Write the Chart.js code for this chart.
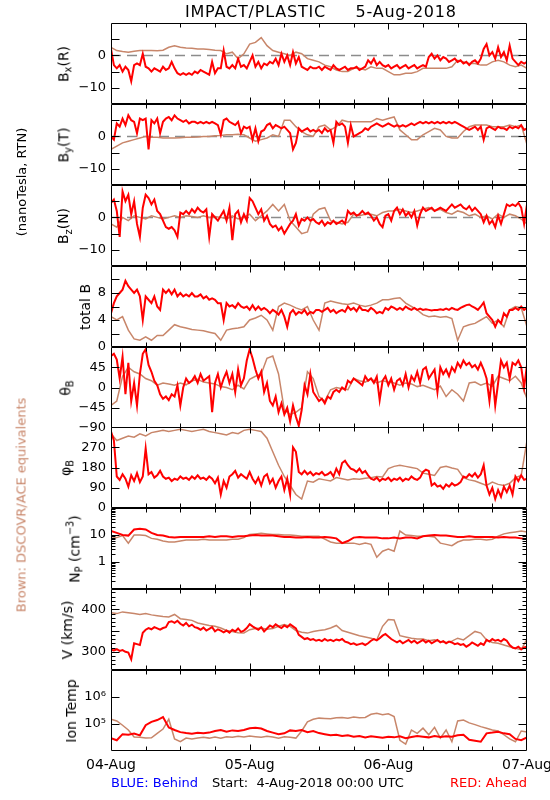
<!DOCTYPE html>
<html>
<head>
<meta charset="utf-8">
<title>IMPACT/PLASTIC 5-Aug-2018</title>
<script src="https://cdn.jsdelivr.net/npm/chart.js@4.4.1/dist/chart.umd.min.js"></script>
<style>
  body { margin: 0; background: #fff; }
  #page { position: relative; width: 550px; height: 800px; overflow: hidden; font-family: "DejaVu Sans", sans-serif; color: #000; }
  #page canvas { position: absolute; left: 0; }
  .txt { position: absolute; white-space: pre; line-height: 1; }
  .rot { position: absolute; white-space: pre; line-height: 1; font-size: 14px; transform: translate(-50%, -50%) rotate(-90deg); }
  sub { font-size: 70%; vertical-align: -0.35em; }
  sup { font-size: 70%; vertical-align: 0.6em; }
</style>
</head>
<body>
<div id="page"></div>
<script>
// time axis (hours from 4-Aug-2018 00:00 UTC)
const dayLabels = ['04-Aug', '05-Aug', '06-Aug', '07-Aug'];
const sixHourTicks = [6, 12, 18, 24, 30, 36, 42, 48, 54, 60, 66];
const RED_STEP = 0.5;   // red (STEREO) samples every 30 min
const BROWN_STEP = 1;   // brown (DSCOVR/ACE) samples every hour

// Bx (R), nT
const bxRed = [
  2, -3, -4, -3, -5, -3.5, -4.5, -8, -3, -2.5,
  -3, 0.5, -3.5, -4, -5, -4, -4.5, -5, -3.5, -4.5,
  -4, -2, -4, -5.5, -6, -5.5, -6, -5.5, -6, -5,
  -5.5, -4.5, -5, -5.5, -6, -2, -5.5, -4, -4, 1.5,
  -3.5, -4, -3, -4, -1, -3.5, -3, -4, -2, 0,
  -3.5, -2, -4, -2.5, -3, -2, -2.5, -1, -3, 0.5,
  -2, 0, -3, 1, -2.5, -0.5, -3.5, -4, -4.5, -3.5,
  -4, -4, -3.5, -4.5, -3.5, -4, -4.5, -3, -4, -4.5,
  -4, -3.5, -4.5, -4, -4, -3.5, -4.5, -4, -3.5, -1.5,
  -2.5, -1, -3, -2, -3, -3.5, -3, -4, -3.5, -3,
  -4, -3.5, -3, -4, -3.5, -3, -4, -3.5, -3, -3.5,
  -0.5, 0.5, -1, 0, -1.5, -0.5, -1, -2, -1.5, -1,
  -2, -1.5, -2.5, -2, -3, -2, -1.5, -2.5, -1, 2,
  3.5, 0, 1, -1, 2.5, -0.5, 1, -1.5, 3, -1,
  -2, -3, -2, -2.5, -2
];
const bxBrown = [
  2.5, 1.5, 1.2, 1, 1.3, 1.5, 1.5, 1.5, 1.4, 1.6,
  2.5, 3, 2.5, 2.3, 2.2, 2, 2, 1.8, 1.6, 1.5,
  0.5, 1, -1, 0.5, 3.5, 4, 5.5, 3, 1.5, 1,
  0.5, 0, 1, 0.5, -1, -1.5, -2, -3, -3.5, -4.5,
  -5, -5, -4, -4, -4.5, -3.5, -4, -4, -5, -6,
  -6, -5.5, -5.5, -5, -4, -4, -4, -4, -4, -3.5,
  -1.5, -2, -2.5, -2.5, -3, -3, -2, -1.5, -2, -3,
  -3.5, -3, -4
];

// By (T), nT
const byRed = [
  0, -1, 4, 3, 5.5, 3.5, 6.5, 5, 4.5, 1,
  5.5, 5, 5.5, -4, 5, 4, 5.5, 1, 4.5, 5.5,
  6, 5, 6.5, 5.5, 5, 4.5, 5, 4, 4.5, 4.5,
  4, 4.5, 4, 4.5, 4, 4.5, 4, 3.5, 0.5, 5,
  5.5, 4.5, 4, 3.5, 4.5, 1, 3, 2.5, 3, -1,
  2.5, -1.5, 1.5, 2, 3.5, 4, 2.5, 3.5, 3, 2.5,
  3, 2, 1, -4, -2, 2.5, 1.5, 2, 2.5, 1.5,
  2, 1.5, 2, 1, 2.5, 1.5, 2, -2, 4.5, 3.5,
  4, 3, -2, 3.5, 0, 0.5, 1, 1.5, 2.5, 2,
  3, 3.5, 4, 3.5, 3, 3.5, 4, 3.5, 3, 3.5,
  3, 3.5, 3, 3.5, 4, 3.5, 4, 4.5, 4, 4.5,
  4, 4.5, 4, 4.5, 4, 4.5, 4, 4.5, 4, 4.5,
  4, 3.5, 3, 2.5, 2, 2.5, 3, 2, 3, -1,
  2.5, 3, 2.5, 2, 3, 2.5, 2.5, 2, 3, 2.5,
  3, 2.5, 3.5, 2, 2.5
];
const byBrown = [
  -4, -3, -2, -1.5, -1, -0.5, 0, -0.3, -0.3, -0.5,
  -0.5, -0.5, -0.4, -0.3, -0.3, -0.2, 0, 0, 0.2, 0.3,
  0.5, 0.5, 0.7, 0.5, -0.5, -1.5, -1, -0.5, 0.5, 0,
  5, 5, 3, 1.5, 0.5, 0, 3, 3.5, 2, 3,
  5, 4.5, 4.5, 4.5, 4.5, 4.5, 5.5, 5, 5.5, 6,
  2, 0.5, -1, -1, 0.5, 1.5, 2.5, 2, 0, -0.5,
  -0.5, 1.5, 3, 3.5, 3.5, 3.5, 3, 3, 3, 3.5,
  3, 3.5, -2.5
];

// Bz (N), nT
const bzRed = [
  4.5, 5.5, 2, -6, 8, 5, 7, 1, 5, -2,
  -6, 3, 7, 6, 4, 5.5, 2, 1, -1, -3,
  -3.5, -3, -4, -6, 1.5, 1, 2, 1, 2.5, 1.5,
  3, 2, 1.5, 2.5, -6, 1, 0, -1, 0.5, 2,
  -1, 3, -7, 1, 2, -1.5, 1, -1, 6, 5,
  3, 1, 2.5, -1, 0.5, -2, -3, -2.5, -4, -3,
  -5, -3.5, -2, -1, 1, -2.5, -0.5, -1, 0, -1,
  -0.5, -1.5, -2, -1, -2.5, -1.5, -2, -1, -2, -1.5,
  -1, -2, 2, 1, 1.5, 0.5, 1, 2, 1, 1.5,
  0.5, -1, 0, -2, -3, 0.5, 1, -1, 2, 3,
  1, 2.5, 0.5, 1.5, 0, 2, -2.5, 1, 3, 2,
  2.5, 3, 2, 2.5, 3, 2.5, 2, 3, 4, 3,
  3.5, 4, 3, 2.5, 3.5, 2, 3, 2, 1, -1.5,
  0.5, -2, -1, -3, 0.5, -2, 1, 4, 3.5, 4,
  3.5, 4.5, 3, -2, 4
];
const bzBrown = [
  -2, -3, 0, -1, 0.5, 0, -0.5, 0.5, 0, -0.5,
  0, 0.5, 0, 0.5, 0.3, 0, 0.5, 0, 0.3, 0,
  -0.5, 0.5, -0.5, 0, 1, -1, 0.5, 2, 4, 2,
  4, -1, -3, -5, -4.5, 1, 2.5, 3, -1, -1.5,
  -2, -1.5, 1, 0.5, 1, 1, 0.5, 1.5, 2, 2,
  2.5, 2, 1.5, 2, 2.5, 3, 2, 2.5, 1.5, 1,
  2, 1.5, 0.5, 1, 0, 0.5, -0.5, 1, 0, 1,
  0.5, -0.5, -2
];

// total B, nT
const btRed = [
  5, 6.5, 7.5, 8, 8.5, 9.8, 9, 8.5, 8, 8.5,
  7.5, 4, 7.5, 7, 6.5, 7.5, 6, 5.5, 8.5, 8,
  8.5, 7.8, 8.5, 7.5, 8, 7.5, 7.8, 7.5, 8, 7.5,
  7.5, 7.8, 7.2, 7.5, 7, 7.2, 7, 6.5, 6.5, 4,
  6.5, 6, 6.2, 5.8, 6.5, 6, 5.8, 6, 5.5, 6.2,
  5.5, 6, 5.5, 5.8, 5.5, 5, 5.5, 5.2, 4.8, 5.5,
  4.5, 3, 5, 5.5, 4.8, 5.2, 5, 5.5, 4.8, 5.2,
  5, 5.5, 5.5, 5.2, 5.5, 5.8, 5.2, 5.5, 5, 5.3,
  5.5, 5.2, 6, 5.5, 5.8, 5.3, 6, 5.5, 5.5, 5.3,
  5.8, 5.5, 5, 5.2, 5, 5.8, 5.5, 6, 5.8, 5.5,
  5.8, 5.5, 6, 5.7, 5.5, 5.8, 5.5, 5.7, 5.5, 5.6,
  5.5, 5.4, 5.5, 5.5, 5.6, 5.5, 5.7, 5.5, 5.8, 5.6,
  5.5, 5.8, 6, 6.2, 6.3, 6, 5.8, 5.5, 6, 6.6,
  5, 4.5, 4, 3, 4, 3.5, 5, 4.5, 5.5, 5.5,
  5.8, 5.5, 6, 5.5, 5.8
];
const btBrown = [
  4.5, 4, 4.5, 2.5, 1.2, 1, 1.5, 1, 1.7, 1.7,
  2.5, 3.3, 3, 2.8, 2.6, 2.5, 2.4, 2.2, 2, 1,
  2.5, 2.7, 2.8, 3, 4, 4.3, 4.7, 4, 2.5, 6,
  6.5, 6.2, 5.8, 5.5, 6, 4, 2.5, 6.5, 6.8, 6.6,
  6.4, 6.3, 6.5, 6.2, 6, 6.2, 6.5, 7, 7, 7.2,
  7.3, 6.5, 6, 5.5, 4.8, 4.5, 4.6, 4.4, 4.5, 4.2,
  1, 3, 3.3, 3.5, 4, 4.5, 3.5, 4, 3, 5.5,
  6, 5.8, 3
];

// theta B, degrees
const thRed = [
  70, 75, 62, 20, 68, -15, 55, -30, 10, -40,
  30, 75, 85, 50, 35, 15, 5, -15, -25, -20,
  -28, -15, -20, 5, -40, 0, 20, 10, 15, 25,
  10, 30, 15, 20, 25, -55, 10, 30, 0, 20,
  35, 10, 30, -10, 40, 5, 20, 60, 85, 65,
  40, 20, 35, -10, 10, -30, -40, -20, -55, -35,
  -60, -45, -75, -40, -65, -85, -50, 5, -15, 30,
  -10, -20, -30, -25, -35, -20, -25, -10, -5, -10,
  0, -5, 15, 10, 20, 15, 10, 5, 25, 15,
  20, 10, 24, -28, 15, 25, 5, 20, -5, 15,
  20, 5, 30, 0, 25, 15, 35, 10, 40, 45,
  20, 30, 40, -10, 45, 30, 40, 25, 45, 35,
  55, 45, 60, 50, 55, 45, 50, 40, 55, 40,
  20, -30, 30, -40, 10, 60, 45, 55, 20, 55,
  50, 60, 45, 0, 50
];
const thBrown = [
  -40, -30, 25, 45, 35, 30, 20, 15, 5, 10,
  8, 5, 10, 6, 15, 18, 12, 10, 8, 2,
  0, -5, 5, -3, 18, 25, 30, 65, 70, 30,
  -50, -60, -55, -45, 35, 20, -20, -30, -5, 0,
  -3, -5, 20, 15, 12, 20, 10, 15, 12, 10,
  5, 10, 8, 2, 5, 0, -5, 3, -20, -5,
  -15, -30, 10, 12, 5, 10, 3, 25, 20, 15,
  25, 10, -25
];

// phi B, degrees
const phRed = [
  340, 300, 140, 125, 150, 130, 95, 145, 120, 155,
  115, 140, 265, 150, 160, 135, 145, 165, 140, 130,
  135, 120, 130, 125, 140, 130, 135, 125, 140, 130,
  145, 130, 135, 125, 140, 130, 110, 135, 60, 120,
  90, 140, 150, 165, 135, 150, 140, 130, 160, 130,
  110, 135, 100, 140, 150, 110, 130, 90, 120, 140,
  80, 130, 60, 270, 250, 160, 150, 165, 150, 160,
  145, 155, 150, 160, 145, 150, 160, 140, 175, 150,
  200, 210, 190, 175, 170, 160, 175, 155, 165, 145,
  130, 125, 135, 120, 130, 125, 135, 120, 130, 125,
  135, 120, 130, 125, 140, 130, 125, 135, 160, 170,
  165, 100, 110, 95, 100, 85, 105, 95, 110, 100,
  105, 115, 140, 135, 150, 140, 155, 135, 150, 190,
  100, 60, 90, 40, 80, 50, 95, 70, 100, 60,
  140, 120, 145, 125, 130
];
const phBrown = [
  330, 300, 310, 320, 315, 330, 320, 335, 340, 345,
  340, 345, 350, 345, 340, 345, 350, 340, 335, 330,
  325, 335, 330, 345, 350, 345, 340, 310, 250, 190,
  140, 100, 60, 40, 120, 115, 130, 125, 120, 135,
  130, 125, 130, 128, 132, 135, 140, 138, 175, 185,
  190, 185, 180, 175, 155, 150, 145, 180, 185, 178,
  172, 135, 125, 120, 110, 100, 115, 105, 100, 110,
  135, 145, 300
];

// proton density, cm^-3 (hourly)
const npRed = [
  14, 12, 10, 9.5, 16, 17, 16, 12, 10, 9.5,
  8.5, 8, 8.5, 8.5, 8.5, 8.5, 8.5, 9, 8.5, 9,
  9, 8.5, 9, 9, 9.5, 10, 9.5, 9.5, 9.5, 9,
  8.5, 8.5, 8, 8, 8.5, 8, 8, 8.5, 8, 7.5,
  5, 6, 8, 8.5, 8, 8, 8, 7.5, 7.5, 8,
  7.5, 8, 8, 7.5, 9, 9.5, 10, 9.5, 9.5, 9,
  8.5, 8.5, 9, 8.5, 8.5, 8.5, 8.5, 8, 8.5, 8,
  8, 7.5, 7
];
const npBrown = [
  7.5, 8, 9.5, 5, 10, 10, 9.5, 7.5, 7, 6,
  5.5, 5.5, 6, 6.5, 6.5, 6.5, 7, 6.5, 6.5, 6.5,
  6.5, 7, 7, 8, 10.5, 11, 11.5, 11, 10.5, 10.5,
  10, 10, 9.5, 9, 9, 9, 9, 7, 5.5, 5,
  5, 5, 5, 4.5, 5, 4.5, 1.5, 2.5, 3, 2.5,
  14, 10, 9.5, 9, 9, 9, 8.5, 5, 4.5, 4,
  5.5, 6.5, 6.5, 7, 7, 6.5, 7, 9, 11, 12,
  13, 14, 13
];

// bulk speed, km/s
const vRed = [
  305, 303, 306, 302, 304, 300, 298, 282, 320, 318,
  316, 345, 352, 356, 353, 358, 355, 352, 356, 358,
  370, 372, 368, 373, 366, 362, 368, 360, 364, 358,
  356, 352, 357, 350, 354, 358, 348, 353, 350, 346,
  350, 345, 352, 348, 355, 347, 350, 356, 365, 360,
  356, 352, 358, 348, 355, 362, 358, 365, 360, 356,
  362, 358, 365, 360, 355, 340, 335, 330, 332, 328,
  330, 326, 328, 325, 330, 326, 328, 325, 329, 327,
  330, 324, 322, 318, 320, 316, 318, 320, 316, 320,
  326, 330, 327, 332, 338, 342, 336, 330, 326, 322,
  326, 320, 324, 328, 322, 326, 320, 324, 328, 322,
  326, 320, 324, 328, 322, 325, 320, 324, 322, 318,
  320, 316, 318, 312, 316, 322, 318, 314, 320, 316,
  328, 324, 330, 326, 328, 324, 330, 326, 316, 310,
  308, 312, 306, 310, 312
];
const vBrown = [
  392, 390, 394, 392, 390, 388, 390, 387, 385, 383,
  382, 388, 378, 376, 374, 368, 365, 362, 360, 356,
  350, 348, 345, 344, 352, 355, 356, 353, 355, 360,
  364, 360, 350, 346, 344, 348, 350, 352, 356, 362,
  350, 346, 342, 338, 335, 332, 328, 360, 376, 375,
  338, 335, 332, 330, 330, 326, 328, 324, 322, 325,
  332, 328, 338, 348, 344, 328, 322, 320, 316, 312,
  308, 305, 330
];

// ion temperature, K (hourly)
const tRed = [
  30000, 25000, 42000, 40000, 44000, 38000, 90000, 120000, 140000, 180000,
  75000, 60000, 50000, 46000, 44000, 47000, 45000, 48000, 55000, 60000,
  52000, 58000, 55000, 60000, 70000, 72000, 68000, 55000, 48000, 42000,
  45000, 58000, 55000, 60000, 50000, 55000, 46000, 42000, 38000, 40000,
  36000, 38000, 34000, 36000, 32000, 35000, 33000, 31000, 34000, 32000,
  35000, 30000, 33000, 36000, 34000, 32000, 36000, 33000, 35000, 34000,
  38000, 40000, 26000, 24000, 22000, 45000, 48000, 52000, 45000, 42000,
  28000, 25000, 32000
];
const tBrown = [
  150000, 130000, 90000, 60000, 33000, 32000, 30000, 31000, 45000, 65000,
  150000, 28000, 22000, 30000, 28000, 30000, 32000, 30000, 33000, 30000,
  34000, 32000, 35000, 33000, 36000, 34000, 32000, 35000, 33000, 30000,
  34000, 32000, 30000, 55000, 120000, 150000, 165000, 160000, 155000, 170000,
  175000, 165000, 180000, 170000, 175000, 230000, 250000, 220000, 240000, 190000,
  25000, 18000, 60000, 45000, 70000, 40000, 75000, 30000, 60000, 22000,
  130000, 140000, 110000, 95000, 80000, 70000, 60000, 55000, 40000, 28000,
  22000, 55000, 50000
];

// axis ticks and labels
const bTicks = [-10, -5, 0, 5];
const bLabelVals = [0, -10];
const bLabels = ['0', '\u221210'];
const btTicks = [2, 4, 6, 8, 10];
const btLabelVals = [0, 4, 8];
const btLabels = ['0', '4', '8'];
const thTicks = [-45, 0, 45];
const thLabelVals = [-90, -45, 0, 45];
const thLabels = ['\u221290', '\u221245', '0', '45'];
const phTicks = [90, 180, 270];
const phLabelVals = [0, 90, 180, 270];
const phLabels = ['0', '90', '180', '270'];
const npTicks = [1, 10];
const npMinor = [0.2, 0.3, 0.4, 0.5, 0.6, 0.7, 0.8, 0.9, 2, 3, 4, 5, 6, 7, 8, 9, 20, 30, 40, 50, 60, 70, 80, 90];
const npLabelVals = [1, 10];
const npLabels = ['1', '10'];
const vTicks = [300, 350, 400];
const vMinor = [260, 270, 280, 290, 310, 320, 330, 340, 360, 370, 380, 390, 410, 420, 430, 440];
const vLabelVals = [300, 400];
const vLabels = ['300', '400'];
const tTicks = [1e5, 1e6];
const tLabelVals = [1e5, 1e6];
const tLabels = ['10\u2075', '10\u2076'];

const RED = '#ff0000';
const BROWN = '#c8866a';
const FONT = '"DejaVu Sans", sans-serif';

const panels = [
  { title: 'B<sub>x</sub>(R)', tx: 65, red: bxRed, brown: bxBrown, min: -15, max: 10, major: bTicks, labelVals: bLabelVals, labels: bLabels, zero: true },
  { title: 'B<sub>y</sub>(T)', tx: 65, red: byRed, brown: byBrown, min: -15, max: 10, major: bTicks, labelVals: bLabelVals, labels: bLabels, zero: true },
  { title: 'B<sub>z</sub>(N)', tx: 65, red: bzRed, brown: bzBrown, min: -15, max: 10, major: bTicks, labelVals: bLabelVals, labels: bLabels, zero: true },
  { title: 'total B', tx: 85, red: btRed, brown: btBrown, min: 0, max: 12, major: btTicks, labelVals: btLabelVals, labels: btLabels },
  { title: '\u03b8<sub>B</sub>', tx: 67, red: thRed, brown: thBrown, min: -90, max: 90, major: thTicks, labelVals: thLabelVals, labels: thLabels },
  { title: '\u03c6<sub>B</sub>', tx: 67, red: phRed, brown: phBrown, min: 0, max: 360, major: phTicks, labelVals: phLabelVals, labels: phLabels },
  { title: 'N<sub>P</sub> (cm<sup>\u22123</sup>)', tx: 75, red: npRed, redStep: 1, brown: npBrown, min: 0.1, max: 100, log: true, major: npTicks, minor: npMinor, labelVals: npLabelVals, labels: npLabels },
  { title: 'V (km/s)', tx: 67, red: vRed, brown: vBrown, min: 257, max: 448, major: vTicks, minor: vMinor, labelVals: vLabelVals, labels: vLabels },
  { title: 'Ion Temp', tx: 71, red: tRed, redStep: 1, brown: tBrown, min: 1e4, max: 1e7, log: true, major: tTicks, labelVals: tLabelVals, labels: tLabels }
];

const page = document.getElementById('page');
const PAD = 12;
const PANEL_H = 81;
const tops = [23, 104, 185, 266, 347, 427, 508, 589, 670];

// box with inward tick marks, like the original IDL plot
const framePlugin = {
  id: 'frame',
  afterDatasetsDraw(chart, args, opts) {
    const { ctx, chartArea: a } = chart;
    const x = chart.scales.x, y = chart.scales.y;
    const L = a.left + 0.5, R = a.right - 0.5, T = a.top + 0.5, B = a.bottom - 0.5;
    ctx.save();
    ctx.strokeStyle = '#000';
    ctx.lineWidth = 1;
    ctx.beginPath();
    ctx.rect(L, T, R - L, B - T);
    sixHourTicks.forEach(h => {
      const px = Math.round(x.getPixelForValue(h)) + 0.5;
      const len = h % 24 === 0 ? 6 : 4;
      ctx.moveTo(px, T); ctx.lineTo(px, T + len);
      ctx.moveTo(px, B); ctx.lineTo(px, B - len);
    });
    const yTick = (v, len) => {
      const py = Math.round(y.getPixelForValue(v)) + 0.5;
      if (py <= T || py >= B) return;
      ctx.moveTo(L, py); ctx.lineTo(L + len, py);
      ctx.moveTo(R, py); ctx.lineTo(R - len, py);
    };
    opts.major.forEach(v => yTick(v, 8));
    (opts.minor || []).forEach(v => yTick(v, 4));
    ctx.stroke();
    ctx.restore();
  }
};

function addText(html, cls, style) {
  const d = document.createElement('div');
  d.className = cls;
  d.innerHTML = html;
  Object.assign(d.style, style);
  page.appendChild(d);
  return d;
}

panels.forEach((p, i) => {
  const last = i === panels.length - 1;
  const bottomPad = last ? 34 : PAD;
  const cv = document.createElement('canvas');
  cv.width = 550;
  cv.height = PAD + PANEL_H + bottomPad;
  cv.style.top = (tops[i] - PAD) + 'px';
  page.appendChild(cv);

  const redStep = p.redStep || RED_STEP;
  const datasets = [
    { data: p.red.map((v, k) => ({ x: k * redStep, y: v })), borderColor: RED, borderWidth: 2 },
    { data: p.brown.map((v, k) => ({ x: k * BROWN_STEP, y: v })), borderColor: BROWN, borderWidth: 1.5 }
  ];
  if (p.zero) {
    datasets.push({ data: [{ x: 0, y: 0 }, { x: 72, y: 0 }], borderColor: '#8c8c8c', borderWidth: 1.5, borderDash: [10, 6] });
  }

  new Chart(cv, {
    type: 'line',
    data: { datasets },
    options: {
      responsive: false,
      animation: false,
      events: [],
      layout: { padding: { top: PAD, bottom: last ? 0 : PAD, left: 0, right: 23 } },
      elements: { point: { radius: 0 }, line: { tension: 0 } },
      plugins: {
        legend: { display: false },
        tooltip: { enabled: false },
        frame: { major: p.major, minor: p.minor }
      },
      scales: {
        x: {
          type: 'linear', min: 0, max: 72, display: last,
          afterFit: s => {
            if (last) s.height = 34;
            s.paddingLeft = 0; s.paddingRight = 0;
          },
          grid: { display: false, drawTicks: false },
          border: { display: false },
          ticks: {
            stepSize: 24, autoSkip: false, maxRotation: 0, padding: 6, color: '#000',
            font: { family: FONT, size: 14 },
            callback: v => dayLabels[Math.round(v / 24)]
          }
        },
        y: {
          type: p.log ? 'logarithmic' : 'linear',
          min: p.min, max: p.max,
          afterFit: s => { s.width = 111; s.paddingTop = 0; s.paddingBottom = 0; },
          afterBuildTicks: s => { s.ticks = p.labelVals.map(v => ({ value: v })); },
          grid: { display: false, drawTicks: false },
          border: { display: false },
          ticks: {
            autoSkip: false, padding: 5, color: '#000',
            font: { family: FONT, size: 13 },
            callback: (v, idx) => p.labels[idx]
          }
        }
      }
    },
    plugins: [framePlugin]
  });

  addText(p.title, 'rot', { left: p.tx + 'px', top: (tops[i] + PANEL_H / 2) + 'px' });
});

// titles and notes around the plot
addText('IMPACT/PLASTIC     5-Aug-2018', 'txt', { left: '185px', top: '4px', fontSize: '16px', letterSpacing: '0.8px' });
addText('(nanoTesla, RTN)', 'rot', { left: '21px', top: '182px', fontSize: '13px' });
addText('Brown: DSCOVR/ACE equivalents', 'rot', { left: '21px', top: '505px', fontSize: '13px', color: BROWN });
addText('BLUE: Behind', 'txt', { left: '111px', top: '776px', fontSize: '13px', color: '#0000ff' });
addText('Start:  4-Aug-2018 00:00 UTC', 'txt', { left: '212px', top: '776px', fontSize: '13px' });
addText('RED: Ahead', 'txt', { left: '450px', top: '776px', fontSize: '13px', color: RED });
</script>
</body>
</html>
